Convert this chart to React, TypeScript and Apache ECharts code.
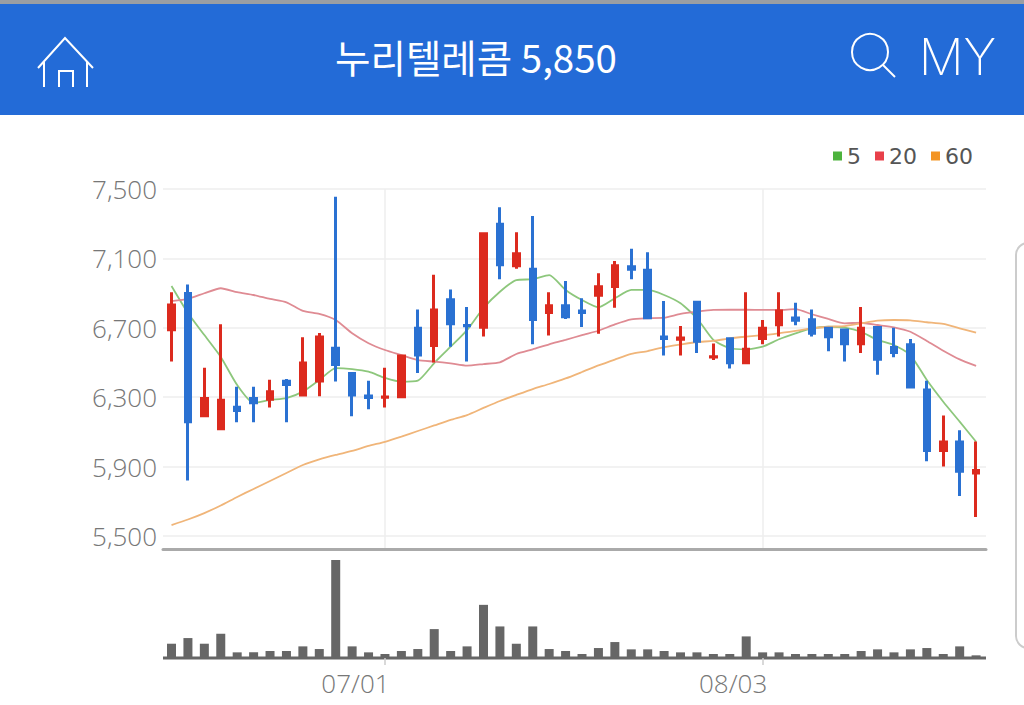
import React, { useEffect, useRef } from "react";
import * as echarts from "echarts";

const dates = ["06/12","06/13","06/14","06/15","06/18","06/19","06/20","06/21","06/22","06/25","06/26","06/27","06/28","07/01","07/02","07/03","07/04","07/05","07/06","07/09","07/10","07/11","07/12","07/13","07/16","07/17","07/18","07/19","07/20","07/23","07/24","07/25","07/26","07/27","07/30","07/31","08/03","08/06","08/07","08/08","08/09","08/10","08/13","08/14","08/15","08/16","08/17","08/20","08/21","08/22"];
const labelled = ["07/01", "08/03"];
const priceTicks = [5500, 5900, 6300, 6700, 7100, 7500];

const opens = [6688,6897,6193,6118,6242,6292,6288,6392,6313,6393,6582,6437,6307,6300,6303,6697,6598,6862,6713,6703,7297,7058,7037,6788,6827,6797,6888,6938,7052,7032,6647,6634,6847,6532,6637,6498,6638,6718,6757,6747,6697,6687,6608,6702,6587,6602,6342,5993,6042,5863];
const closes = [6832,6158,6292,6282,6223,6268,6332,6373,6497,6647,6488,6313,6298,6301,6537,6543,6802,6723,6712,7242,7063,7127,6748,6827,6763,6788,6937,7057,7038,6758,6638,6641,6623,6533,6498,6577,6697,6797,6743,6668,6648,6608,6697,6518,6558,6358,5993,6042,5873,5877];
const lows = [6505,5820,6185,6110,6155,6155,6240,6155,6305,6305,6390,6190,6230,6240,6295,6440,6500,6590,6505,6650,6980,7040,6605,6655,6750,6705,6665,6815,6980,6750,6540,6540,6555,6515,6465,6490,6605,6650,6715,6650,6565,6505,6555,6430,6530,6350,5930,5900,5730,5610];
const highs = [6905,6950,6470,6720,6360,6360,6400,6405,6645,6670,7455,6445,6395,6470,6545,6805,7005,6920,6820,7250,7395,7250,7345,6905,6970,6870,7015,7085,7155,7135,6855,6710,6855,6610,6645,6905,6745,6905,6845,6805,6705,6695,6820,6710,6700,6635,6395,6195,6110,6045];

const ma5 = [6941,6785,6658,6532,6370,6267,6284,6295,6332,6399,6468,6462,6447,6411,6389,6395,6497,6591,6687,6814,6908,6975,6980,7003,6918,6860,6818,6870,6918,6918,6889,6841,6755,6630,6582,6576,6591,6634,6668,6697,6706,6701,6677,6630,6601,6543,6399,6274,6159,6043];
const ma20 = [6854,6866,6899,6928,6905,6889,6866,6847,6797,6780,6745,6668,6611,6572,6543,6514,6505,6495,6482,6491,6501,6549,6576,6605,6630,6658,6683,6720,6749,6755,6758,6780,6793,6803,6804,6804,6803,6803,6807,6778,6751,6726,6729,6716,6703,6677,6624,6568,6518,6480];
const ma60 = [5563,5595,5632,5676,5725,5771,5817,5863,5909,5941,5967,5990,6019,6043,6073,6105,6137,6169,6197,6238,6278,6313,6347,6376,6408,6445,6483,6517,6549,6566,6589,6604,6618,6624,6639,6649,6658,6668,6682,6697,6706,6710,6726,6741,6745,6743,6732,6722,6697,6672];
const volumes = [43,60,43,73,17,17,21,21,35,27,295,35,17,12,21,27,87,21,35,160,95,43,95,27,21,12,30,48,26,26,21,17,17,12,12,65,17,17,12,12,12,12,21,26,17,26,30,12,35,8];

const title = "누리텔레콤 5,850";

const isLabelled = (_: number, v: string) => labelled.includes(v);

export default function App() {
  const ref = useRef<HTMLDivElement>(null);
  useEffect(() => {
    document.body.style.margin = "0";
    const chart = echarts.init(ref.current!, null, { renderer: "svg" });
    const wl = { stroke: "#fff", lineWidth: 2, fill: "none" };
    chart.setOption({
      animation: false,
      backgroundColor: "#fff",
      legend: {
        data: ["5", "20", "60"],
        left: 833,
        top: 145,
        padding: 0,
        icon: "rect",
        itemWidth: 9,
        itemHeight: 9,
        itemGap: 14,
        textStyle: { color: "#555", fontSize: 22, fontFamily: "DejaVu Sans" },
        selectedMode: false,
      },
      grid: [
        { left: 163, top: 189, width: 823, height: 360.5 },
        { left: 163.3, top: 189, width: 821, height: 360.5 },
        { left: 163.3, top: 560, width: 821, height: 98 },
      ],
      xAxis: [
        {
          gridIndex: 0, type: "value", min: 0, max: 1,
          axisLine: { show: true, onZero: false, lineStyle: { color: "#aaa", width: 3 } },
          axisTick: { show: false }, axisLabel: { show: false }, splitLine: { show: false },
        },
        {
          gridIndex: 1, type: "category", data: dates,
          axisLine: { show: false }, axisTick: { show: false }, axisLabel: { show: false },
          splitLine: { show: true, interval: isLabelled, alignWithLabel: true, lineStyle: { color: "#eee", width: 1.5 } },
        },
        {
          gridIndex: 2, type: "category", data: dates,
          axisLine: { show: false },
          axisTick: { show: true, interval: isLabelled, alignWithLabel: true, length: 7, lineStyle: { color: "#ccc", width: 1.5 } },
          axisLabel: {
            show: true, interval: isLabelled, margin: 12, color: "#777", fontSize: 26,
            fontFamily: "Open Sans", fontWeight: 300, padding: [0, 59, 0, 0],
          },
          splitLine: { show: false },
        },
      ],
      yAxis: [
        {
          gridIndex: 0, type: "value", min: 5422, max: 7500,
          axisLine: { show: false },
          axisTick: { show: false, customValues: priceTicks },
          axisLabel: {
            customValues: priceTicks, margin: 6, color: "#777", fontSize: 26,
            fontFamily: "Open Sans", fontWeight: 300, padding: [0, 0, 3, 0],
            formatter: (v: number) => v.toLocaleString("en-US"),
          },
          splitLine: { show: true, lineStyle: { color: "#eee", width: 1.5 } },
        },
        {
          gridIndex: 1, type: "value", min: 5422, max: 7500, show: false, splitLine: { show: false },
        },
        {
          gridIndex: 2, type: "value", min: 0, max: 295, show: false, splitLine: { show: false },
        },
      ],
      series: [
        {
          name: "5", type: "line", xAxisIndex: 1, yAxisIndex: 1, data: ma5, symbol: "none", z: 2, smooth: 0.2,
          itemStyle: { color: "#4DB33D" }, lineStyle: { color: "#8DC77C", width: 1.8 },
        },
        {
          name: "20", type: "line", xAxisIndex: 1, yAxisIndex: 1, data: ma20, symbol: "none", z: 2, smooth: 0.2,
          itemStyle: { color: "#E8404A" }, lineStyle: { color: "#DF8B93", width: 1.8 },
        },
        {
          name: "60", type: "line", xAxisIndex: 1, yAxisIndex: 1, data: ma60, symbol: "none", z: 2, smooth: 0.2,
          itemStyle: { color: "#F39423" }, lineStyle: { color: "#F0B579", width: 1.8 },
        },
        {
          name: "price", type: "candlestick", xAxisIndex: 1, yAxisIndex: 1, barWidth: 6, z: 3,
          data: dates.map((_, i) => [opens[i], closes[i], lows[i], highs[i]]),
          itemStyle: { color: "#DC2A1E", color0: "#2A71D2", borderColor: "#DC2A1E", borderColor0: "#2A71D2", borderWidth: 3 },
        },
        {
          name: "volume", type: "bar", xAxisIndex: 2, yAxisIndex: 2, data: volumes, barWidth: 9,
          itemStyle: { color: "#666" },
        },
      ],
      graphic: [
        { type: "rect", shape: { x: 0, y: 0, width: 1024, height: 4 }, style: { fill: "#9A9EA3" } },
        { type: "rect", shape: { x: 0, y: 4, width: 1024, height: 111 }, style: { fill: "#236BD7" } },
        {
          type: "text", x: 476, y: 56,
          style: { text: title, fill: "#fff", fontSize: 38.5, fontWeight: 400, fontFamily: "Noto Sans CJK KR", align: "center", verticalAlign: "middle" },
        },
        { type: "polyline", shape: { points: [[38, 68], [65, 38], [93, 68]] }, style: wl },
        { type: "polyline", shape: { points: [[44, 62], [44, 87]] }, style: wl },
        { type: "polyline", shape: { points: [[87, 62], [87, 87]] }, style: wl },
        { type: "polyline", shape: { points: [[59, 87], [59, 71], [73, 71], [73, 87]] }, style: wl },
        { type: "circle", shape: { cx: 870, cy: 52, r: 18 }, style: wl },
        { type: "line", shape: { x1: 883, y1: 65, x2: 895, y2: 77 }, style: wl },
        {
          type: "text", x: 957.5, y: 57,
          style: { text: "MY", fill: "#fff", fontSize: 50, fontWeight: 200, fontFamily: "Inter", align: "center", verticalAlign: "middle" },
        },
        { type: "line", shape: { x1: 163, y1: 658, x2: 986, y2: 658 }, style: { stroke: "#666", lineWidth: 3 } },
        { type: "rect", shape: { x: 1016, y: 243, width: 40, height: 405, r: 12 }, style: { fill: "#fff", stroke: "#ccc", lineWidth: 2 } },
      ],
    });
    return () => chart.dispose();
  }, []);
  return <div ref={ref} style={{ position: "fixed", left: 0, top: 0, width: 1024, height: 705 }} />;
}
